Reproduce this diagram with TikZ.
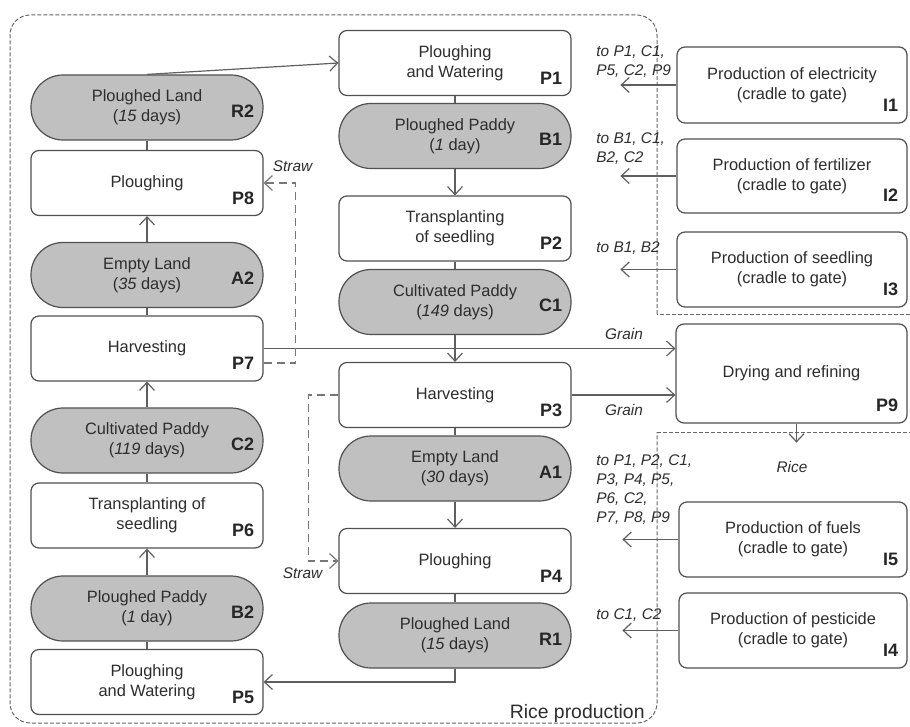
\documentclass[tikz,border=0pt]{standalone}
\usepackage{fontspec}
\setmainfont{Liberation Sans}
\usetikzlibrary{arrows.meta,calc,positioning}
\definecolor{landcolor}{RGB}{192,192,192}
\definecolor{boxline}{RGB}{80,80,80}
\definecolor{flowline}{RGB}{95,95,95}
\definecolor{textcolor}{RGB}{45,45,45}

\begin{document}
\begin{tikzpicture}[x=0.5pt,y=-0.5pt,
    every node/.style={text=textcolor},
    box/.style={draw=boxline,line width=0.6pt,align=center,inner sep=0pt,
        font=\fontsize{8.2}{9.8}\selectfont,minimum width=116pt,minimum height=32.5pt},
    proc/.style={box,fill=white,rounded corners=4pt,label={[proctag]south east:#1}},
    land/.style={box,fill=landcolor,rounded corners=16pt,label={[landtag]east:#1}},
    tag/.style={inner sep=0pt,text=black!85,font=\fontsize{9}{10}\selectfont\bfseries},
    proctag/.style={tag,anchor=south east,xshift=-4.5pt,yshift=5.75pt},
    landtag/.style={tag,anchor=east,xshift=-4.5pt,yshift=-1.75pt},
    link/.style={draw=flowline,line width=0.6pt},
    flow/.style={link,-{Straight Barb[length=4pt,width=7.5pt]}},
    straw/.style={flow,dash pattern=on 4pt off 2.5pt,draw=flowline!85},
    frame/.style={draw=black!60,line width=0.5pt,dash pattern=on 2pt off 1pt},
    flowlab/.style={inner sep=0pt,align=left,font=\fontsize{7.7}{9.5}\selectfont\itshape}]

    \useasboundingbox (0,0) rectangle (910,727);

    % Rice production boundary
    \draw[frame,rounded corners=10pt] (657,314) -- (657,15) -- (10,15) -- (10,723) -- (657,723) -- (657,432);
    \draw[frame] (910,314) -- (657,314) (657,432) -- (910,432);
    \node[anchor=east,inner sep=0pt,font=\fontsize{9.7}{11}\selectfont] (rp) at (645,713) {Rice production};

    % First crop (middle column)
    \node[proc=P1] (P1) at (455,63) {Ploughing\\and Watering};
    \node[land=B1] (B1) at (455,136) {Ploughed Paddy\\(\textit{1} day)};
    \node[proc=P2] (P2) at (455,228.5) {Transplanting\\of seedling};
    \node[land=C1] (C1) at (455,302) {Cultivated Paddy\\(\textit{149} days)};
    \node[proc=P3] (P3) at (455,395) {Harvesting};
    \node[land=A1] (A1) at (455,468.5) {Empty Land\\(\textit{30} days)};
    \node[proc=P4] (P4) at (455,561) {Ploughing};
    \node[land=R1] (R1) at (455,635.5) {Ploughed Land\\(\textit{15} days)};

    % Second crop (left column)
    \node[land=R2] (R2) at (147,107.5) {Ploughed Land\\(\textit{15} days)};
    \node[proc=P8] (P8) at (147,183) {Ploughing};
    \node[land=A2] (A2) at (147,275) {Empty Land\\(\textit{35} days)};
    \node[proc=P7] (P7) at (147,348.5) {Harvesting};
    \node[land=C2] (C2) at (147,440.5) {Cultivated Paddy\\(\textit{119} days)};
    \node[proc=P6] (P6) at (147,515.5) {Transplanting of\\seedling};
    \node[land=B2] (B2) at (147,608.5) {Ploughed Paddy\\(\textit{1} day)};
    \node[proc=P5] (P5) at (147,682) {Ploughing\\and Watering};

    % Inputs and refining (right column)
    \node[proc=I1,minimum width=115pt,minimum height=38pt] (I1) at (792,85) {Production of electricity\\(cradle to gate)};
    \node[proc=I2,minimum width=115pt,minimum height=37pt] (I2) at (792,176) {Production of fertilizer\\(cradle to gate)};
    \node[proc=I3,minimum width=115pt,minimum height=37.5pt] (I3) at (792,269.5) {Production of seedling\\(cradle to gate)};
    \node[proc=P9,minimum width=115.5pt,minimum height=49.5pt] (P9) at (791.5,373.5) {Drying and refining};
    \node[proc=I5,minimum width=114pt,minimum height=37.5pt] (I5) at (793,539.5) {Production of fuels\\(cradle to gate)};
    \node[proc=I4,minimum width=114pt,minimum height=37.5pt] (I4) at (793,630.5) {Production of pesticide\\(cradle to gate)};

    % Links inside each column
    \foreach \a/\b in {P1/B1, P2/C1, P3/A1, P4/R1, R2/P8, A2/P7, C2/P6, B2/P5}
        \draw[link] (\a) -- (\b);
    \foreach \a/\b in {B1/P2, C1/P3, A1/P4, A2/P8, C2/P7, B2/P6}
        \draw[flow] (\a) -- (\b);
    \draw[flow] (R1.south) |- (P5.east);
    \draw[flow] (R2.north) -- (P1.west);

    % Grain, straw and rice
    \draw[flow] (P7.east) -- (P7.east -| P9.west);
    \draw[flow] (P3.east) -- (P3.east -| P9.west);
    \node[flowlab] (grain1) at (624,334) {Grain};
    \node[flowlab] (grain2) at (624,410) {Grain};
    \draw[straw] ($(P7.east)+(0,14.5)$) -- ++(32,0) |- (P8.east);
    \draw[straw] (P3.west) -- ++(-30,0) |- (P4.west);
    \node[flowlab] (straw1) at (292.5,166) {Straw};
    \node[flowlab] (straw2) at (302.5,573) {Straw};
    \node[flowlab] (rice) at (792,467) {Rice};
    \draw[flow] ([xshift=2.5pt]P9.south) -- ++(0,19);

    % Input flows
    \foreach \n/\y/\t in {I1/78/{to P1, C1,\\P5, C2, P9}, I2/165/{to B1, C1,\\B2, C2}, I3/255/{to B1, B2},
        I5/525/{to P1, P2, C1,\\P3, P4, P5,\\P6, C2,\\P7, P8, P9}, I4/622/{to C1, C2}}{
        \draw[flow] (\n.west) -- ++(-56,0);
        \node[flowlab,anchor=south west] (to\n) at (596,\y) {\t};
    }
\end{tikzpicture}
\end{document}
